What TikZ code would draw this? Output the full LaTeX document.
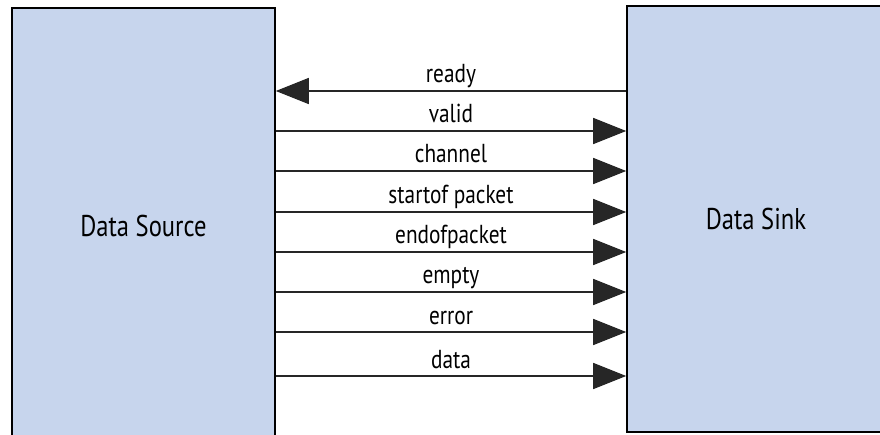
\documentclass[tikz,border=0pt]{standalone}
\usepackage{fontspec}
\setmainfont{PT Sans}[FakeStretch=0.82]
\usetikzlibrary{arrows.meta}
\definecolor{boxblue}{RGB}{199,213,237}

\begin{document}
\begin{tikzpicture}[
  x=1pt, y=1pt,
  block/.style={rectangle, draw=black, fill=boxblue, line width=1.6pt, inner sep=0pt, font=\fontsize{30}{34}\selectfont},
  sig/.style={draw=black!85, line width=1.6pt, -{Triangle[length=33pt, width=26pt]}},
  siglabel/.style={anchor=base, inner sep=0pt, font=\fontsize{26}{29}\selectfont}
]
  \useasboundingbox (0,0) rectangle (880,434);
  \clip (0,0) rectangle (880,434);

  % Bloques
  \node[block, minimum width=263pt, minimum height=436pt] (src) at (143.5,208) {Data Source};
  \node[block, minimum width=258pt, minimum height=426pt] (sink) at (756,215) {Data Sink};

  % Señales
  \draw[sig] (sink.west |- 0,343) -- (src.east |- 0,343) node[siglabel, pos=0.5, yshift=8pt] {ready};
  \foreach \y/\name in {303/valid, 263/channel, 222/startof packet, 182/endofpacket,
                        142/empty, 102/error, 58/data} {
    \draw[sig] (src.east |- 0,\y) -- (sink.west |- 0,\y) node[siglabel, pos=0.5, yshift=8pt] {\name};
  }
\end{tikzpicture}
\end{document}
